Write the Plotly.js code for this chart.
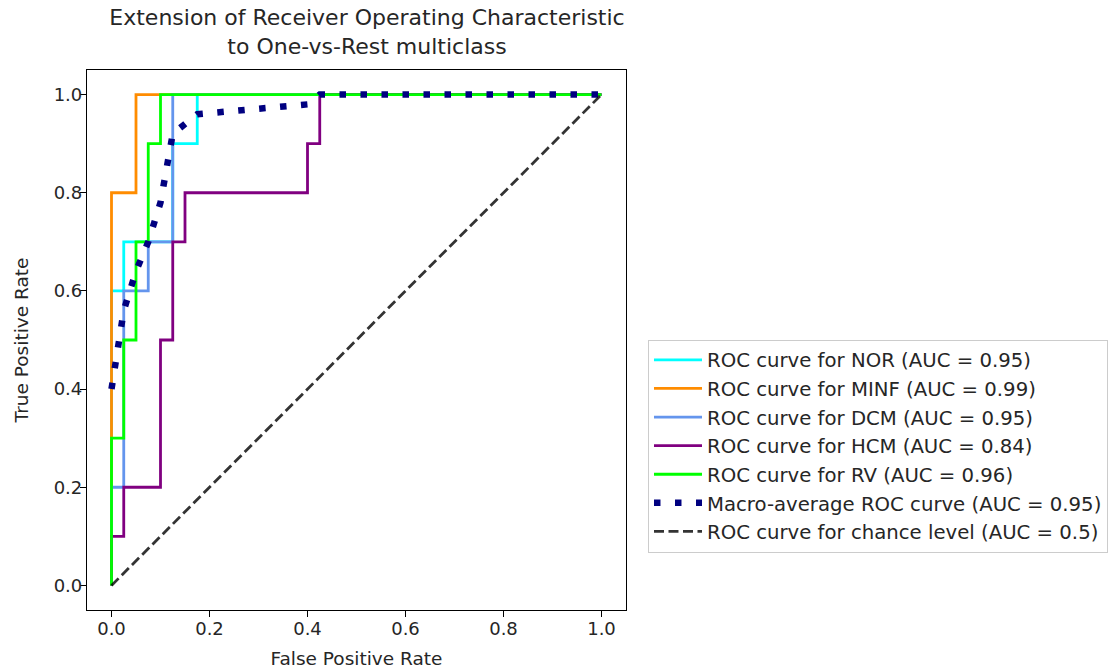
<!DOCTYPE html>
<html>
<head>
<meta charset="utf-8">
<script src="https://cdn.plot.ly/plotly-3.0.1.min.js"></script>
<style>html,body{margin:0;padding:0;background:#fff;}#chart{width:1114px;height:671px;}</style>
</head>
<body>
<div id="chart"></div>
<script>
// ---- data ----
const fprNOR  = [0, 0, 0.025, 0.025, 0.125, 0.125, 0.175, 0.175, 1];
const tprNOR  = [0, 0.6, 0.6, 0.7, 0.7, 0.9, 0.9, 1.0, 1.0];
const fprMINF = [0, 0, 0.05, 0.05, 1];
const tprMINF = [0, 0.8, 0.8, 1.0, 1.0];
const fprDCM  = [0, 0, 0.025, 0.025, 0.075, 0.075, 0.125, 0.125, 1];
const tprDCM  = [0, 0.2, 0.2, 0.6, 0.6, 0.7, 0.7, 1.0, 1.0];
const fprHCM  = [0, 0, 0.025, 0.025, 0.1, 0.1, 0.125, 0.125, 0.15, 0.15, 0.4, 0.4, 0.425, 0.425, 1];
const tprHCM  = [0, 0.1, 0.1, 0.2, 0.2, 0.5, 0.5, 0.7, 0.7, 0.8, 0.8, 0.9, 0.9, 1.0, 1.0];
const fprRV   = [0, 0, 0.025, 0.025, 0.05, 0.05, 0.075, 0.075, 0.1, 0.1, 1];
const tprRV   = [0, 0.3, 0.3, 0.5, 0.5, 0.7, 0.7, 0.9, 0.9, 1.0, 1.0];
const fprMacro = [0, 0.025, 0.05, 0.075, 0.1, 0.125, 0.15, 0.175, 0.4, 0.425, 1];
const tprMacro = [0.4, 0.56, 0.64, 0.70, 0.78, 0.92, 0.94, 0.96, 0.98, 1.0, 1.0];
const fprChance = [0, 1];
const tprChance = [0, 1];
const classNames = ["NOR", "MINF", "DCM", "HCM", "RV"];
const aucValues = [0.95, 0.99, 0.95, 0.84, 0.96];
const macroAUC = 0.95;
const chanceAUC = 0.5;
const tickVals = [0, 0.2, 0.4, 0.6, 0.8, 1.0];

const classColors = ["#00FFFF", "#FF8C00", "#6495ED", "#800080", "#00FF00"];
const fprs = [fprNOR, fprMINF, fprDCM, fprHCM, fprRV];
const tprs = [tprNOR, tprMINF, tprDCM, tprHCM, tprRV];

const FONT = "DejaVu Sans, Verdana, sans-serif";
const traces = classNames.map((n, i) => ({
  x: fprs[i], y: tprs[i], type: "scatter", mode: "lines",
  name: "ROC curve for " + n + " (AUC = " + aucValues[i].toFixed(2) + ")",
  line: {color: classColors[i], width: 2.8, shape: "linear"}
}));
traces.push({
  x: fprMacro, y: tprMacro, type: "scatter", mode: "lines",
  name: "Macro-average ROC curve (AUC = " + macroAUC.toFixed(2) + ")",
  line: {color: "#000080", width: 6.5, dash: "6.5px,14.5px"}
});
traces.push({
  x: fprChance, y: tprChance, type: "scatter", mode: "lines",
  name: "ROC curve for chance level (AUC = " + chanceAUC + ")",
  line: {color: "rgba(0,0,0,0.8)", width: 2.8, dash: "10px,4.5px"}
});

const axisCommon = {
  range: [-0.05, 1.05], tickvals: tickVals, tickformat: ".1f",
  ticks: "outside", ticklen: 6, tickwidth: 1.1, tickcolor: "#000",
  showline: true, mirror: true, linecolor: "#000", linewidth: 1.1,
  showgrid: false, zeroline: false,
  tickfont: {family: FONT, size: 18, color: "#262626"}
};

const layout = {
  width: 1114, height: 671,
  margin: {l: 87, r: 488, t: 70, b: 61, pad: 0, autoexpand: false},
  paper_bgcolor: "#fff", plot_bgcolor: "#fff",
  font: {family: FONT, color: "#262626"},
  title: {
    text: "Extension of Receiver Operating Characteristic<br>to One-vs-Rest multiclass",
    font: {family: FONT, size: 22, color: "#262626"},
    x: 0.5195, xref: "paper", xanchor: "center",
    y: 0.962, yref: "container", yanchor: "top"
  },
  xaxis: Object.assign({}, axisCommon, {
    ticklabelstandoff: -4,
    title: {text: "False Positive Rate", font: {family: FONT, size: 18.5, color: "#262626"}, standoff: 14}
  }),
  yaxis: Object.assign({}, axisCommon, {
    ticklabelstandoff: -6,
    title: {text: "True Positive Rate", font: {family: FONT, size: 18.5, color: "#262626"}, standoff: 20}
  }),
  showlegend: true,
  legend: {
    x: 1.0408, xanchor: "left", y: 0.3037, yanchor: "middle",
    font: {family: FONT, size: 19.7, color: "#262626"},
    bgcolor: "#fff", bordercolor: "#cccccc", borderwidth: 1,
    itemwidth: 48
  }
};

Plotly.newPlot("chart", traces, layout, {staticPlot: true, displayModeBar: false});
</script>
</body>
</html>
